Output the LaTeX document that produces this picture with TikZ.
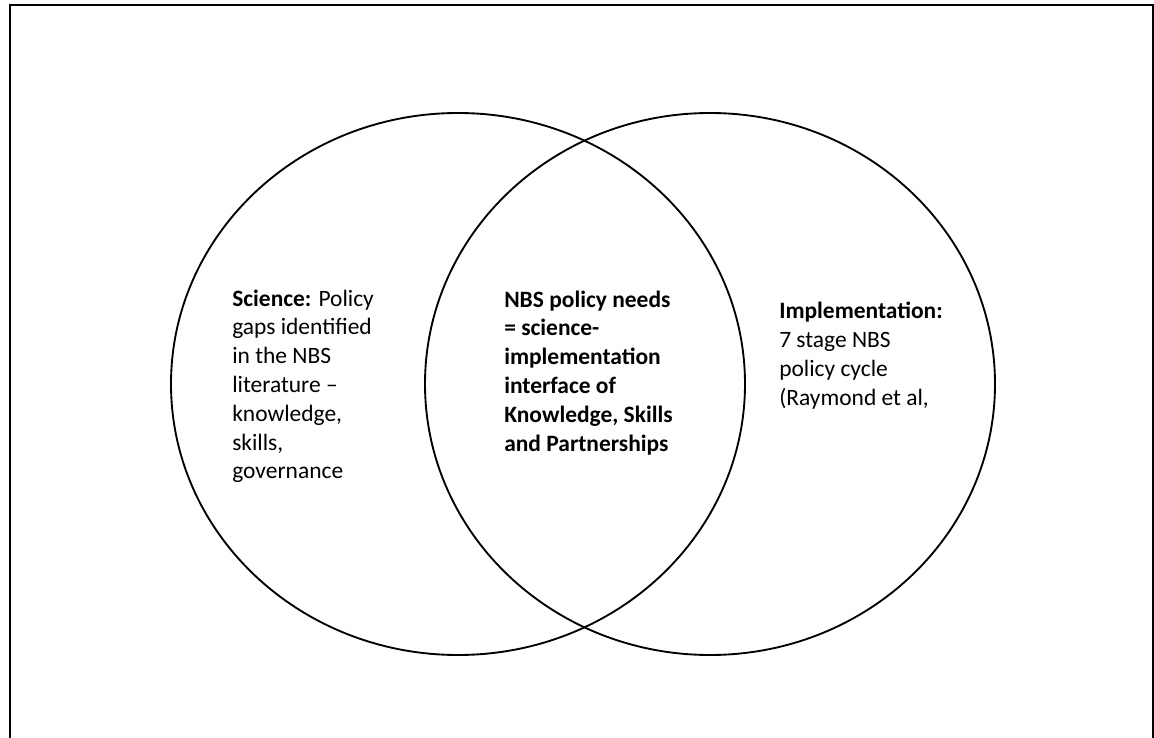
\documentclass[tikz,border=0pt]{standalone}
\usepackage{fontspec}
\setmainfont{Carlito}
\begin{document}
\begin{tikzpicture}[x=0.75pt,y=-0.75pt,
  frameline/.style={line width=1.5pt,draw=black},
  setline/.style={line width=1.4pt,draw=black},
  blocktext/.style={anchor=base west,inner sep=0pt,font=\fontsize{17.6}{21.6}\selectfont}]
\path[use as bounding box,clip] (0,0) rectangle (1154,738);
\draw[frameline] (10,5) rectangle (1153,760);
\draw[setline] (458,384) ellipse [x radius=215.25pt,y radius=203.25pt];
\draw[setline] (710,384) ellipse [x radius=213.75pt,y radius=203.25pt];
\node[blocktext] (sci) at (232,306) {\parbox[t]{6cm}{\fontsize{17.6}{21.6}\selectfont
  \textbf{Science:} Policy\\gaps identified\\in the NBS\\literature –\\knowledge,\\skills,\\governance}};
\node[blocktext] (mid) at (504,307) {\parbox[t]{6cm}{\fontsize{17.6}{21.6}\selectfont\bfseries
  NBS policy needs\\= science-\\implementation\\interface of\\Knowledge, Skills\\and Partnerships}};
\node[blocktext] (imp) at (779,319) {\parbox[t]{6cm}{\fontsize{17.6}{21.6}\selectfont
  \textbf{Implementation:}\\7 stage NBS\\policy cycle\\(Raymond et al,}};
\end{tikzpicture}
\end{document}
